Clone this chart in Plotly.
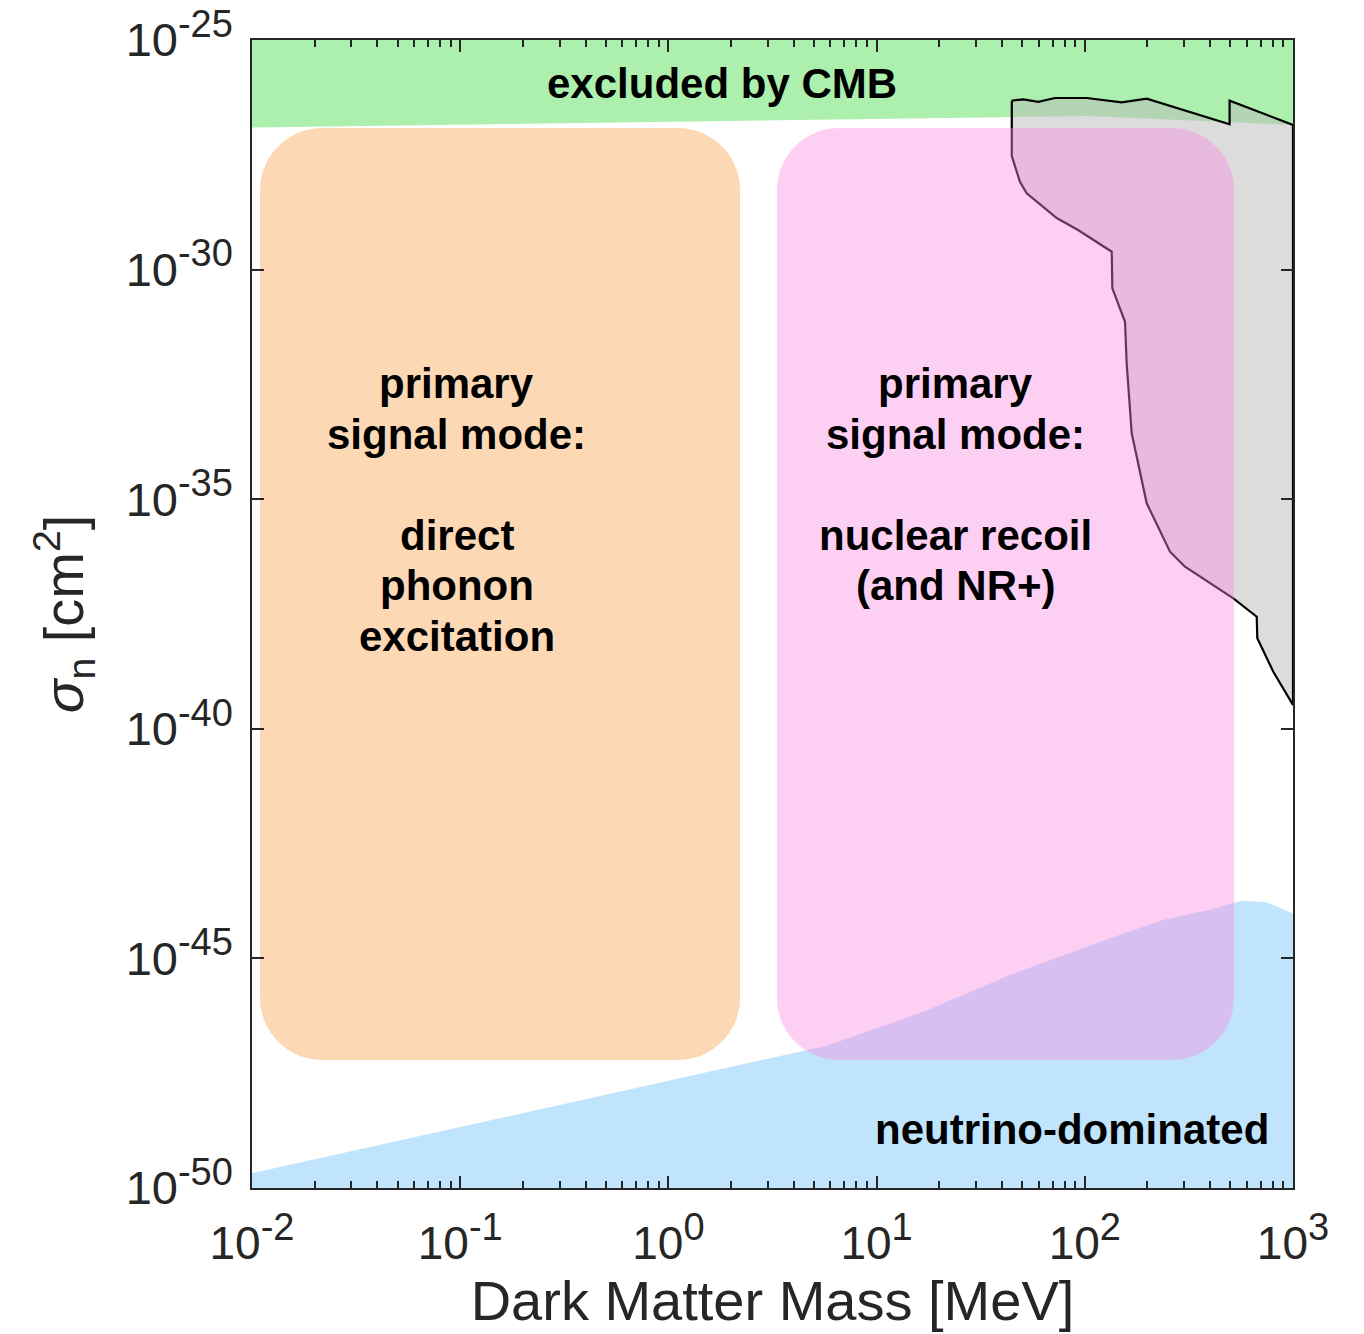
import numpy as np
import plotly.graph_objects as go

# ---------------- data ----------------
x_range_exp = [-2, 3]          # log10 of Dark Matter Mass [MeV]
y_range_exp = [-50, -25]       # log10 of sigma_n [cm^2]
x_tick_exps = [-2, -1, 0, 1, 2, 3]
y_tick_exps = [-50, -45, -40, -35, -30, -25]

# CMB exclusion: lower boundary
cmb_mass = [0.01, 102.5, 1000]
cmb_sigma = [1.24e-27, 2.21e-27, 1.41e-27]

# existing limits (grey region): upper edge, left to right
lim_top_mass = [44.6, 50.7, 59.8, 71.9, 102.1, 150.4, 198.3, 496, 496, 1000]
lim_top_sigma = [4.77e-27, 5.1e-27, 4.5e-27, 5.45e-27, 5.45e-27, 4.4e-27,
                 5.27e-27, 1.46e-27, 4.77e-27, 1.41e-27]
# lower edge, left (top) to right (bottom)
lim_low_mass = [44.6, 48.8, 52.6, 73.3, 92.8, 134.7, 135.6, 156, 158.9, 168,
                198.3, 256.6, 302.8, 516.9, 669.4, 673.9, 804.3, 1000]
lim_low_sigma = [2.98e-28, 8.2e-29, 4.6e-29, 1.33e-29, 7.3e-30, 2.45e-30,
                 3.9e-31, 7.3e-32, 9.1e-33, 2.72e-34, 8.15e-36, 7.2e-37,
                 3.39e-37, 6.95e-38, 2.76e-38, 9.35e-39, 1.75e-39, 3.3e-40]

# neutrino floor: upper edge
nu_mass = [0.01, 5.76, 16.8, 43.7, 132.1, 237.5, 412.8, 567, 747.5, 1000]
nu_sigma = [2.09e-50, 1.26e-47, 6.9e-47, 4.36e-46, 2.74e-45, 6.86e-45,
            1.19e-44, 1.81e-44, 1.67e-44, 9.6e-45]

# signal-mode boxes
phonon_mass = [0.01093, 2.208]
nr_mass = [3.32, 520.7]
box_sigma = [6.14e-48, 1.21e-27]

# labels
left_lines = ["primary", "signal mode:", "", "direct", "phonon", "excitation"]
right_lines = ["primary", "signal mode:", "", "nuclear recoil", "(and NR+)"]
line_sigma = [3.3e-33, 2.62e-34, 2.08e-35, 1.655e-36, 1.315e-37, 1.045e-38]
left_label_mass = 0.0965
right_label_mass = 24.06
cmb_label = ("excluded by CMB", 1.81, 1.12e-26)
nu_label = ("neutrino-dominated", 785, 1.88e-49)

# ---------------- layout constants ----------------
W, H = 1364, 1334
ML, MR, MT, MB = 252, 71, 40, 146
plot_w = W - ML - MR
plot_h = H - MT - MB
sx = plot_w / (x_range_exp[1] - x_range_exp[0])   # px per decade
sy = plot_h / (y_range_exp[1] - y_range_exp[0])

AX = "#262626"
FONT = "Liberation Sans, Arial, Helvetica, sans-serif"


def rounded_box(mx, sg, r_px=62, n=14):
    X0, X1 = np.log10(mx[0]), np.log10(mx[1])
    Y0, Y1 = np.log10(sg[0]), np.log10(sg[1])
    rx, ry = r_px / sx, r_px / sy
    pts = []
    corners = [(X1 - rx, Y1 - ry, 0, 90), (X0 + rx, Y1 - ry, 90, 180),
               (X0 + rx, Y0 + ry, 180, 270), (X1 - rx, Y0 + ry, 270, 360)]
    for cx, cy, a0, a1 in corners:
        for t in np.linspace(np.radians(a0), np.radians(a1), n):
            pts.append((cx + rx * np.cos(t), cy + ry * np.sin(t)))
    pts.append(pts[0])
    xs = [10 ** p[0] for p in pts]
    ys = [10 ** p[1] for p in pts]
    return xs, ys


def pow_label(e, sup_px):
    return "10<sup><span style='font-size:%dpx'>%d</span></sup>" % (sup_px, e)


fig = go.Figure()

# CMB exclusion region
fig.add_trace(go.Scatter(
    x=cmb_mass + [cmb_mass[-1], cmb_mass[0], cmb_mass[0]],
    y=cmb_sigma + [10.0 ** y_range_exp[1], 10.0 ** y_range_exp[1], cmb_sigma[0]],
    fill="toself", fillcolor="#adf0ad", mode="none", showlegend=False,
    hoverinfo="skip"))

# existing limits
gx = lim_top_mass + lim_low_mass[::-1] + [lim_top_mass[0]]
gy = lim_top_sigma + lim_low_sigma[::-1] + [lim_top_sigma[0]]
fig.add_trace(go.Scatter(
    x=gx, y=gy, fill="toself", fillcolor="rgba(185,185,185,0.5)",
    mode="lines", line=dict(color="black", width=2.2), showlegend=False,
    hoverinfo="skip"))

# neutrino floor
fig.add_trace(go.Scatter(
    x=nu_mass + [nu_mass[-1], nu_mass[0], nu_mass[0]],
    y=nu_sigma + [10.0 ** y_range_exp[0], 10.0 ** y_range_exp[0], nu_sigma[0]],
    fill="toself", fillcolor="#c0e4fc", mode="none", showlegend=False,
    hoverinfo="skip"))

# signal-mode boxes
bx, by = rounded_box(phonon_mass, box_sigma)
fig.add_trace(go.Scatter(x=bx, y=by, fill="toself",
                         fillcolor="rgba(250,158,70,0.4)", mode="none",
                         showlegend=False, hoverinfo="skip"))
bx, by = rounded_box(nr_mass, box_sigma)
fig.add_trace(go.Scatter(x=bx, y=by, fill="toself",
                         fillcolor="rgba(250,135,225,0.4)", mode="none",
                         showlegend=False, hoverinfo="skip"))

# annotations
lab_font = dict(family=FONT, size=42, color="black")
for txt, sg in zip(left_lines, line_sigma):
    if txt:
        fig.add_annotation(x=np.log10(left_label_mass), y=np.log10(sg),
                           text="<b>%s</b>" % txt, showarrow=False,
                           font=lab_font, xanchor="center", yanchor="middle")
for txt, sg in zip(right_lines, line_sigma):
    if txt:
        fig.add_annotation(x=np.log10(right_label_mass), y=np.log10(sg),
                           text="<b>%s</b>" % txt, showarrow=False,
                           font=lab_font, xanchor="center", yanchor="middle")
fig.add_annotation(x=np.log10(cmb_label[1]), y=np.log10(cmb_label[2]),
                   text="<b>%s</b>" % cmb_label[0], showarrow=False,
                   font=lab_font, xanchor="center", yanchor="middle")
fig.add_annotation(x=np.log10(nu_label[1]), y=np.log10(nu_label[2]),
                   text="<b>%s</b>" % nu_label[0], showarrow=False,
                   font=lab_font, xanchor="right", yanchor="middle")

minor_x = [k * 10.0 ** e for e in range(x_range_exp[0], x_range_exp[1])
           for k in range(2, 10)]

fig.update_layout(
    width=W, height=H,
    margin=dict(l=ML, r=MR, t=MT, b=MB, pad=0, autoexpand=False),
    paper_bgcolor="white", plot_bgcolor="white",
    font=dict(family=FONT, color=AX),
    xaxis=dict(
        type="log", range=x_range_exp, automargin=False,
        tickmode="array", tickvals=[10.0 ** e for e in x_tick_exps],
        ticktext=[pow_label(e, 38) for e in x_tick_exps],
        ticks="inside", ticklen=12, tickwidth=1.5, tickcolor=AX,
        minor=dict(tickmode="array", tickvals=minor_x, ticks="inside",
                   ticklen=7, tickwidth=1.5, tickcolor=AX, showgrid=False),
        showline=True, linecolor=AX, linewidth=1.5, mirror="allticks",
        showgrid=False, zeroline=False,
        tickfont=dict(family=FONT, size=46, color=AX),
        ticklabelstandoff=14,
        title=dict(text="Dark Matter Mass [MeV]",
                   font=dict(family=FONT, size=56, color=AX), standoff=6),
    ),
    yaxis=dict(
        type="log", range=y_range_exp, automargin=False,
        tickmode="array", tickvals=[10.0 ** e for e in y_tick_exps],
        ticktext=[pow_label(e, 38) for e in y_tick_exps],
        ticks="inside", ticklen=12, tickwidth=1.5, tickcolor=AX,
        showline=True, linecolor=AX, linewidth=1.5, mirror="allticks",
        showgrid=False, zeroline=False,
        tickfont=dict(family=FONT, size=47, color=AX),
        ticklabelstandoff=8,
        title=dict(text="<i>σ</i><sub>n</sub> [cm<sup>2</sup>]",
                   font=dict(family=FONT, size=56, color=AX), standoff=24),
    ),
)

fig.write_html("out.html")
